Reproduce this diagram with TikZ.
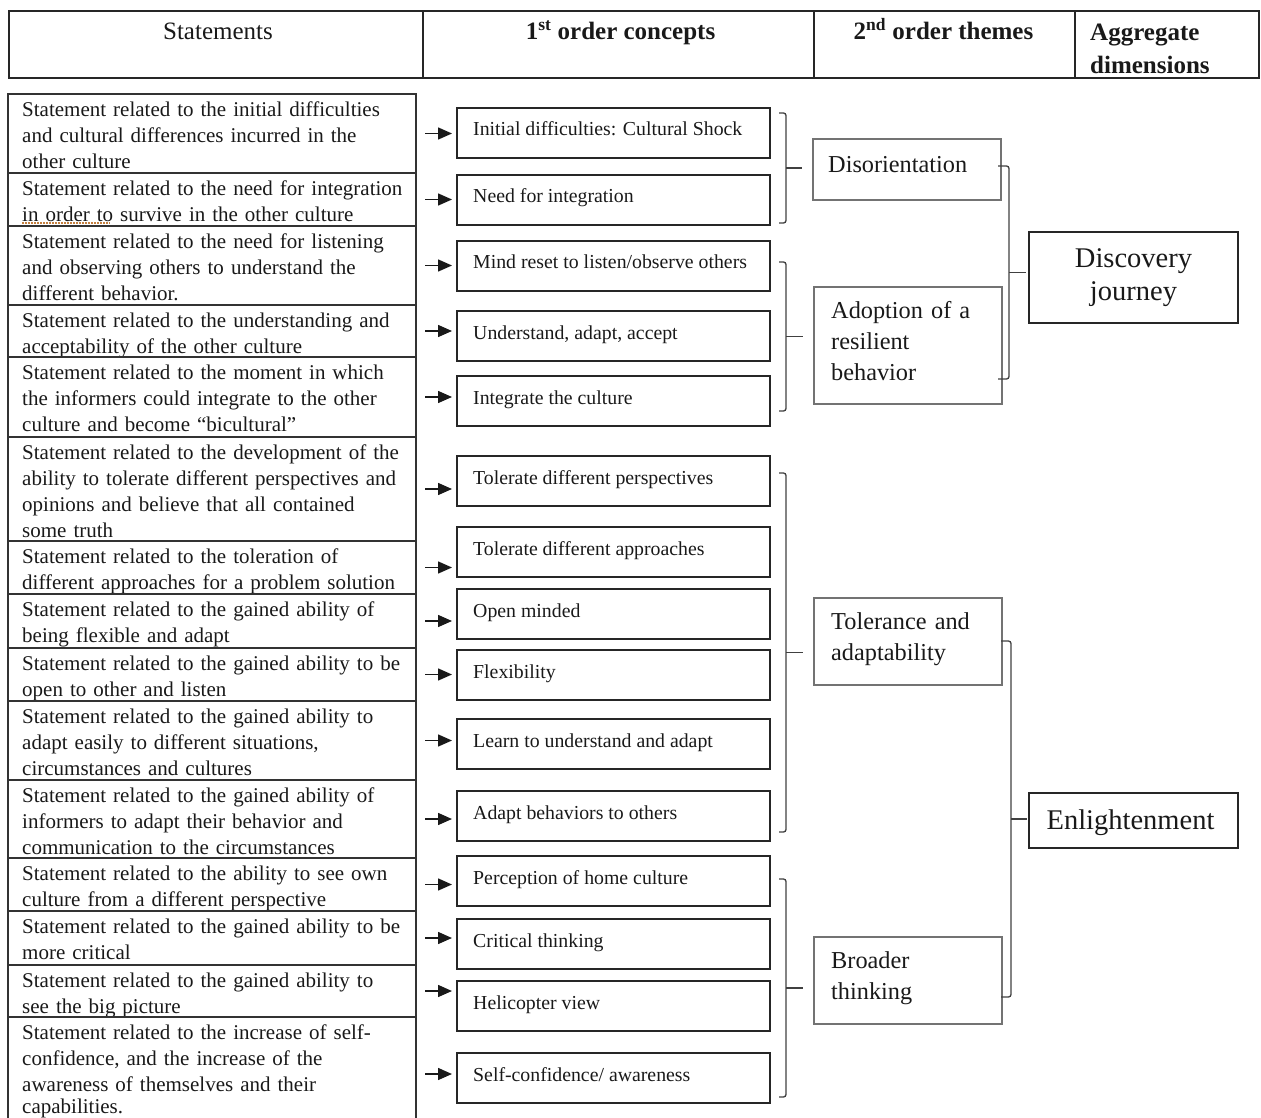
\documentclass[tikz,border=0pt]{standalone}
\usepackage{fontspec}
\setmainfont{Liberation Serif}
\usetikzlibrary{arrows.meta,calc}
\newcommand\fstmt{\fontsize{21}{26}\selectfont}
\newcommand\fconc{\fontsize{19.8}{24}\selectfont}
\newcommand\fthem{\fontsize{24.3}{31}\selectfont}
\newcommand\faggr{\fontsize{28.5}{33}\selectfont}
\newcommand\fhead{\fontsize{25}{33}\selectfont}
\newcommand\placebox[6]{\node[#1,minimum width={(#5)-(#3)},minimum height={(#6)-(#4)}] (#2) at ({((#3)+(#5))/2},{((#4)+(#6))/2}) {};}
\newcommand\stmt[4]{\placebox{sbox}{#1}{8}{#2}{416}{#3}\node[stxt] at ($(#1.north west)+(14,4)$) {\strut #4};}
\newcommand\conc[3]{\placebox{cbox}{#1}{457}{#2}{770}{(#2)+50}\node[ctxt] at ($(#1.north west)+(16,28)$) {#3};}
\newcommand\arrlink[2]{\draw[arr] (#1.east) -- (#1.east -| #2.west);}
\newcommand\brkt[5]{\coordinate (#1t) at (#2,#4);\coordinate (#1b) at (#2,#5);\coordinate (#1m) at (#3,{((#4)+(#5))/2});\draw[brkst] (#1t) -| (#3,#5) -- (#1b);}
\tikzset{
  sbox/.style={draw=black!80, line width=1.4pt, inner sep=0pt, outer sep=0pt, rectangle},
  cbox/.style={draw=black!85, line width=1.9pt, inner sep=0pt, outer sep=0pt, rectangle},
  tbox/.style={draw=black!55, line width=1.5pt, inner sep=0pt, outer sep=0pt, rectangle},
  abox/.style={draw=black!85, line width=1.6pt, inner sep=0pt, outer sep=0pt, rectangle},
  hcell/.style={draw=black!85, line width=1.6pt, inner sep=0pt, outer sep=0pt, rectangle},
  stxt/.style={font=\fstmt, text width=420pt, align=left, inner sep=0pt, anchor=north west, text=black!90},
  ctxt/.style={font=\fconc, inner sep=0pt, anchor=base west, text=black!90},
  ttxt/.style={font=\fthem, text width=180pt, align=left, inner sep=0pt, anchor=north west, text=black!90},
  atxt/.style={font=\faggr, text width=200pt, align=center, inner sep=0pt, anchor=north, text=black!90},
  htxt/.style={font=\fhead, inner sep=0pt, anchor=base, text=black!90},
  arr/.style={line width=1.5pt, draw=black!90, -{Triangle[length=14pt,width=12pt]}, shorten <=9pt, shorten >=5pt},
  brkst/.style={line width=1.3pt, draw=black!75, rounded corners=2.5pt},
  tick/.style={line width=1.3pt, draw=black!75},
}
\begin{document}
\begin{tikzpicture}[x=1pt,y=-1pt]
\useasboundingbox (0,0) rectangle (1261,1118);
% header
\placebox{hcell}{H1}{9}{11}{423}{78}
\placebox{hcell}{H2}{423}{11}{814}{78}
\placebox{hcell}{H3}{814}{11}{1075}{78}
\placebox{hcell}{H4}{1075}{11}{1259}{78}
\node[htxt] at ($(H1.north)+(2,29)$) {Statements};
\node[htxt, font={\fhead\bfseries}] at ($(H2.north)+(2,29)$) {1\textsuperscript{st} order concepts};
\node[htxt, font={\fhead\bfseries}] at ($(H3.north)+(-1,29)$) {2\textsuperscript{nd} order themes};
\node[htxt, font={\fhead\bfseries}, anchor=north west, align=left] at ($(H4.north west)+(15,6)$) {\strut Aggregate\\ dimensions};
% statements
\stmt{s1}{94}{173}{Statement related to the initial difficulties\\and cultural differences incurred in the\\other culture}
\stmt{s2}{173}{226}{Statement related to the need for integration\\in order to survive in the other culture}
\stmt{s3}{226}{305}{Statement related to the need for listening\\and observing others to understand the\\different behavior.}
\stmt{s4}{305}{357}{Statement related to the understanding and\\acceptability of the other culture}
\stmt{s5}{357}{437}{Statement related to the moment in which\\the informers could integrate to the other\\culture and become “bicultural”}
\stmt{s6}{437}{541}{Statement related to the development of the\\ability to tolerate different perspectives and\\opinions and believe that all contained\\some truth}
\stmt{s7}{541}{594}{Statement related to the toleration of\\different approaches for a problem solution}
\stmt{s8}{594}{648}{Statement related to the gained ability of\\being flexible and adapt}
\stmt{s9}{648}{701}{Statement related to the gained ability to be\\open to other and listen}
\stmt{s10}{701}{780}{Statement related to the gained ability to\\adapt easily to different situations,\\circumstances and cultures}
\stmt{s11}{780}{858}{Statement related to the gained ability of\\informers to adapt their behavior and\\communication to the circumstances}
\stmt{s12}{858}{911}{Statement related to the ability to see own\\culture from a different perspective}
\stmt{s13}{911}{965}{Statement related to the gained ability to be\\more critical}
\stmt{s14}{965}{1017}{Statement related to the gained ability to\\see the big picture}
\stmt{s15}{1017}{1131}{Statement related to the increase of self-\\confidence, and the increase of the\\awareness of themselves and their\\[-4pt]capabilities.}
\draw[line width=1.3pt, draw={rgb,255:red,196;green,128;blue,64}, dash pattern=on 1.6pt off 1.4pt] (22,223) -- (110,223);
% concepts
\conc{c1}{108}{Initial difficulties: Cultural Shock}
\conc{c2}{175}{Need for integration}
\conc{c3}{241}{Mind reset to listen/observe others}
\conc{c4}{311}{Understand, adapt, accept}
\conc{c5}{376}{Integrate the culture}
\conc{c6}{456}{Tolerate different perspectives}
\conc{c7}{527}{Tolerate different approaches}
\conc{c8}{589}{Open minded}
\conc{c9}{650}{Flexibility}
\conc{c10}{719}{Learn to understand and adapt}
\conc{c11}{791}{Adapt behaviors to others}
\conc{c12}{856}{Perception of home culture}
\conc{c13}{919}{Critical thinking}
\conc{c14}{981}{Helicopter view}
\conc{c15}{1053}{Self-confidence/ awareness}
% arrows
\arrlink{s1}{c1}\arrlink{s2}{c2}\arrlink{s3}{c3}\arrlink{s4}{c4}\arrlink{s5}{c5}
\arrlink{s6}{c6}\arrlink{s7}{c7}\arrlink{s8}{c8}\arrlink{s9}{c9}\arrlink{s10}{c10}
\arrlink{s11}{c11}\arrlink{s12}{c12}\arrlink{s13}{c13}\arrlink{s14}{c14}\arrlink{s15}{c15}
% themes
\placebox{tbox}{T1}{813}{139}{1001}{200}
\placebox{tbox}{T2}{814}{287}{1002}{404}
\placebox{tbox}{T3}{814}{598}{1002}{685}
\placebox{tbox}{T4}{814}{937}{1002}{1024}
\node[ttxt] at ($(T1.north west)+(15,12)$) {\strut Disorientation};
\node[ttxt] at ($(T2.north west)+(17,10)$) {\strut Adoption of a\\resilient\\behavior};
\node[ttxt] at ($(T3.north west)+(17,10)$) {\strut Tolerance and\\adaptability};
\node[ttxt] at ($(T4.north west)+(17,10)$) {\strut Broader\\thinking};
% aggregates
\placebox{abox}{A1}{1029}{232}{1238}{323}
\placebox{abox}{A2}{1029}{793}{1238}{848}
\node[atxt] at ($(A1.north)+(0,12)$) {\strut Discovery\\journey};
\node[atxt, anchor=base] at ($(A2.north)+(-3,36)$) {Enlightenment};
% first-level brackets
\brkt{B1}{779}{786}{113}{223}
\brkt{B2}{779}{786}{262}{411}
\brkt{B3}{779}{786}{473}{832}
\brkt{B4}{779}{786}{879}{1097}
\draw[tick, shorten >=11pt] (B1m) -- (B1m -| T1.west);
\draw[tick, shorten >=11pt] (B2m) -- (B2m -| T2.west);
\draw[tick, shorten >=11pt] (B3m) -- (B3m -| T3.west);
\draw[tick, shorten >=11pt] (B4m) -- (B4m -| T4.west);
% second-level brackets
\brkt{D1}{998}{1009}{166}{379}
\brkt{D2}{1001}{1011}{641}{997}
\draw[tick, shorten >=3pt] (D1m) -- (D1m -| A1.west);
\draw[tick, shorten >=2pt] (D2m) -- (D2m -| A2.west);
\end{tikzpicture}
\end{document}
